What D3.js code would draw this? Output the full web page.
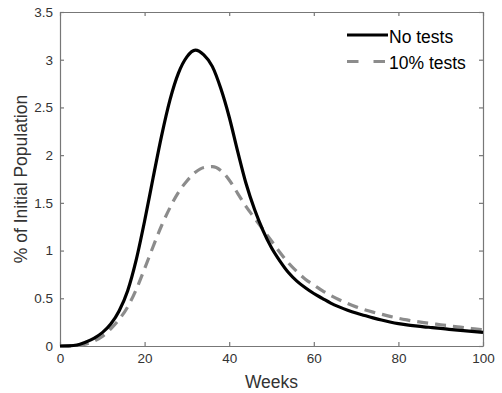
<!DOCTYPE html>
<html lang="en">
<head>
    <meta charset="UTF-8">
    <title>Infected share over time</title>
    <script src="https://cdnjs.cloudflare.com/ajax/libs/d3/7.8.5/d3.min.js"></script>
    <style>
        body { margin: 0; background: #ffffff; }
        text { font-family: "Liberation Sans", Arial, sans-serif; }
    </style>
</head>
<body>
    <script>
        // weeks sampled along the curves
        var weeks = [0, 2, 4, 6, 8, 10, 12, 14, 16, 18, 20, 22, 24, 26, 28, 30, 32, 34, 36, 38, 40,
                     42, 44, 46, 48, 50, 52, 54, 56, 58, 60, 62, 64, 66, 68, 70, 72, 74, 76, 78, 80,
                     82, 84, 86, 88, 90, 92, 94, 96, 98, 100];
        // % of initial population, no tests
        var noTests = [0, 0.002, 0.01, 0.04, 0.08, 0.14, 0.23, 0.37, 0.58, 0.90, 1.31, 1.76, 2.20, 2.58, 2.86, 3.03, 3.10, 3.05, 2.93, 2.70, 2.40,
                       2.04, 1.70, 1.43, 1.21, 1.03, 0.89, 0.77, 0.68, 0.61, 0.55, 0.50, 0.45, 0.41, 0.375, 0.345, 0.32, 0.295, 0.272, 0.252, 0.235,
                       0.222, 0.211, 0.201, 0.193, 0.184, 0.175, 0.166, 0.158, 0.15, 0.143];
        // % of initial population, 10% tests
        var tests10 = [0, 0.001, 0.005, 0.02, 0.05, 0.10, 0.18, 0.28, 0.41, 0.59, 0.81, 1.04, 1.26, 1.45, 1.61, 1.73, 1.82, 1.87, 1.88, 1.84, 1.74,
                       1.60, 1.46, 1.34, 1.22, 1.10, 0.98, 0.87, 0.78, 0.70, 0.64, 0.58, 0.53, 0.485, 0.445, 0.41, 0.38, 0.355, 0.333, 0.31, 0.29,
                       0.273, 0.258, 0.245, 0.234, 0.223, 0.212, 0.201, 0.19, 0.18, 0.17];
        var xTicks = [0, 20, 40, 60, 80, 100];
        var yTicks = [0, 0.5, 1, 1.5, 2, 2.5, 3, 3.5];
        var seriesNames = ["No tests", "10% tests"];

        var W = 502, H = 393;
        // plot box (window.top is reserved, so use a small object)
        var box = {left: 60, right: 483, top: 12, bottom: 346};

        var svg = d3.select("body")
            .append("svg")
            .attr("width", W)
            .attr("height", H);

        var x = d3.scaleLinear().domain([0, 100]).range([box.left, box.right]);
        var y = d3.scaleLinear().domain([0, 3.5]).range([box.bottom, box.top]);

        var axisColor = "#777777";
        var labelColor = "#333333";

        // bottom axis with inward ticks and labels
        svg.append("g")
            .attr("transform", "translate(0," + box.bottom + ")")
            .call(d3.axisBottom(x).tickValues(xTicks).tickSizeInner(-4).tickSizeOuter(0).tickPadding(7))
            .call(styleAxis);
        // top axis, ticks only
        svg.append("g")
            .attr("transform", "translate(0," + box.top + ")")
            .call(d3.axisTop(x).tickValues(xTicks).tickSizeInner(-4).tickSizeOuter(0).tickFormat(""))
            .call(styleAxis);
        // left axis
        svg.append("g")
            .attr("transform", "translate(" + box.left + ",0)")
            .call(d3.axisLeft(y).tickValues(yTicks).tickSizeInner(-4).tickSizeOuter(0).tickPadding(7).tickFormat(d3.format("")))
            .call(styleAxis);
        // right axis, ticks only
        svg.append("g")
            .attr("transform", "translate(" + box.right + ",0)")
            .call(d3.axisRight(y).tickValues(yTicks).tickSizeInner(-4).tickSizeOuter(0).tickFormat(""))
            .call(styleAxis);

        function styleAxis(g) {
            g.attr("font-size", null).attr("font-family", null);
            g.select(".domain").attr("stroke", axisColor).attr("stroke-width", 1.2);
            g.selectAll(".tick line").attr("stroke", axisColor).attr("stroke-width", 1.2);
            g.selectAll(".tick text")
                .attr("fill", labelColor)
                .style("font-size", "13.5px");
        }

        // axis labels
        svg.append("text")
            .attr("x", (box.left + box.right) / 2)
            .attr("y", 388)
            .attr("text-anchor", "middle")
            .attr("fill", labelColor)
            .style("font-size", "17.5px")
            .text("Weeks");
        svg.append("text")
            .attr("transform", "translate(27," + ((box.top + box.bottom) / 2) + ") rotate(-90)")
            .attr("text-anchor", "middle")
            .attr("fill", labelColor)
            .style("font-size", "17.5px")
            .text("% of Initial Population");

        var line = d3.line()
            .x(function(d) { return x(d[0]); })
            .y(function(d) { return y(d[1]); })
            .curve(d3.curveMonotoneX);

        // dashed series first so the solid one sits on top
        svg.append("path")
            .datum(d3.zip(weeks, tests10))
            .attr("d", line)
            .attr("fill", "none")
            .attr("stroke", "#8c8c8c")
            .attr("stroke-width", 3.2)
            .attr("stroke-dasharray", "11,7");
        svg.append("path")
            .datum(d3.zip(weeks, noTests))
            .attr("d", line)
            .attr("fill", "none")
            .attr("stroke", "#000000")
            .attr("stroke-width", 3.2);

        // legend
        var legend = [
            {name: seriesNames[0], color: "#000000", dash: null, y: 35},
            {name: seriesNames[1], color: "#8c8c8c", dash: "11.5,15", y: 61.5}
        ];
        legend.forEach(function(l) {
            svg.append("line")
                .attr("x1", 347).attr("x2", 388)
                .attr("y1", l.y).attr("y2", l.y)
                .attr("stroke", l.color)
                .attr("stroke-width", 3.2)
                .attr("stroke-dasharray", l.dash);
            svg.append("text")
                .attr("x", 389)
                .attr("y", l.y + 7.5)
                .attr("fill", "#000000")
                .style("font-size", "17.5px")
                .text(l.name);
        });
    </script>
</body>
</html>
